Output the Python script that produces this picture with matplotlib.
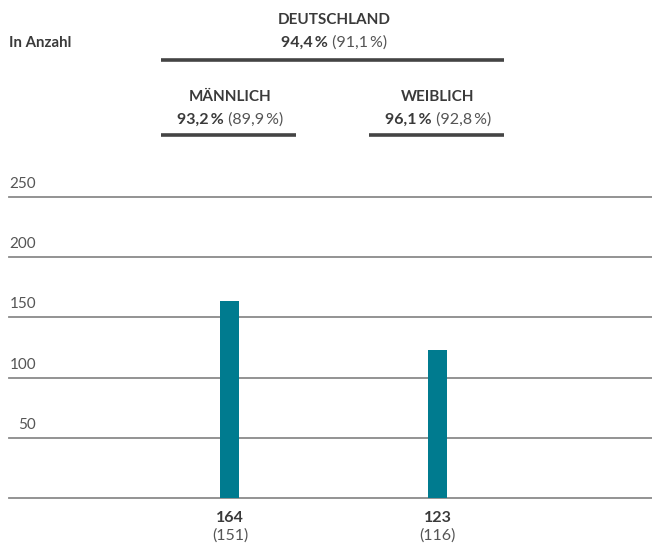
import matplotlib
matplotlib.use('Agg')
import matplotlib.pyplot as plt
import matplotlib.transforms as mtransforms

plt.rcParams.update({
    "font.family": ["Lato", "DejaVu Sans"],
    "font.size": 10,
})

# data
groups = ["MÄNNLICH", "WEIBLICH"]
values = [164, 123]
prev_values = [151, 116]
group_share = ["93,2\u2009%", "96,1\u2009%"]
group_prev_share = ["(89,9\u2009%)", "(92,8\u2009%)"]
total_label = "DEUTSCHLAND"
total_share = "94,4\u2009%"
total_prev_share = "(91,1\u2009%)"
y_ticks = [0, 50, 100, 150, 200, 250]

TEAL = "#007b8f"
DARK = "#3a3a3a"
GREY = "#555555"
GRID = "#8a8a8a"

W, H = 652, 544
fig = plt.figure(figsize=(W / 100, H / 100), dpi=100)
ax = fig.add_axes([9 / W, 1 - 498 / H, 1 - 9 / W, (498 - 197) / H])

x = list(range(len(values)))
ax.bar(x, values, width=0.092, color=TEAL, zorder=3)
ax.set_xlim(-1.0625, 2.03)
ax.set_ylim(0, 250)

# gridlines + tick labels (right-aligned just above each line)
ytr = mtransforms.blended_transform_factory(fig.transFigure, ax.transData)
for t in y_ticks:
    ax.axhline(t, color=GRID, lw=1.3, zorder=1, clip_on=False)
    if t > 0:
        ax.text(36 / W, t + 5, str(t), transform=ytr,
                ha="right", va="bottom", fontsize=11, color=GREY)

ax.axis("off")

# bottom value labels
xtr = mtransforms.blended_transform_factory(ax.transData, fig.transFigure)
for xi, v, pv in zip(x, values, prev_values):
    ax.text(xi, 1 - 518 / H, str(v), transform=xtr, ha="center", va="center",
            fontsize=11.5, fontweight="bold", color=DARK)
    ax.text(xi, 1 - 536 / H, f"({pv})", transform=xtr, ha="center", va="center",
            fontsize=11.5, color=GREY)

fig.canvas.draw()
renderer = fig.canvas.get_renderer()


def mixed_line(xc, ypix, bold, regular):
    """Bold part + regular part, centred together at data x xc."""
    y = 1 - ypix / H
    tb = ax.text(xc, y, bold, transform=xtr, ha="left", va="center",
                 fontsize=11.5, fontweight="bold", color=DARK)
    tr = ax.text(xc, y, " " + regular, transform=xtr, ha="left", va="center",
                 fontsize=11.5, color=GREY)
    wb = tb.get_window_extent(renderer).width
    wr = tr.get_window_extent(renderer).width
    x0 = ax.transData.transform((xc, 0))[0] - (wb + wr) / 2
    tb.set_x(ax.transData.inverted().transform((x0, 0))[0])
    tr.set_x(ax.transData.inverted().transform((x0 + wb, 0))[0])


# header: total
xc_total = (x[0] + x[1]) / 2
ax.text(xc_total, 1 - 20 / H, total_label, transform=xtr, ha="center", va="center",
        fontsize=11, fontweight="bold", color=DARK)
mixed_line(xc_total, 43, total_share, total_prev_share)
ax.plot([x[0] - 0.332, x[1] + 0.317], [1 - 60 / H] * 2, transform=xtr,
        color="#444444", lw=2.6, clip_on=False, solid_capstyle="butt")

# header: groups
for xi, g, s, ps in zip(x, groups, group_share, group_prev_share):
    ax.text(xi, 1 - 97 / H, g, transform=xtr, ha="center", va="center",
            fontsize=11, fontweight="bold", color=DARK)
    mixed_line(xi, 120, s, ps)
    ax.plot([xi - 0.332, xi + 0.317], [1 - 135 / H] * 2, transform=xtr,
            color="#444444", lw=2.6, clip_on=False, solid_capstyle="butt")

fig.text(9 / W, 1 - 43 / H, "In Anzahl", ha="left", va="center",
         fontsize=10.8, fontweight="bold", color=DARK)

fig.savefig("out.png", dpi=100, facecolor="white")
